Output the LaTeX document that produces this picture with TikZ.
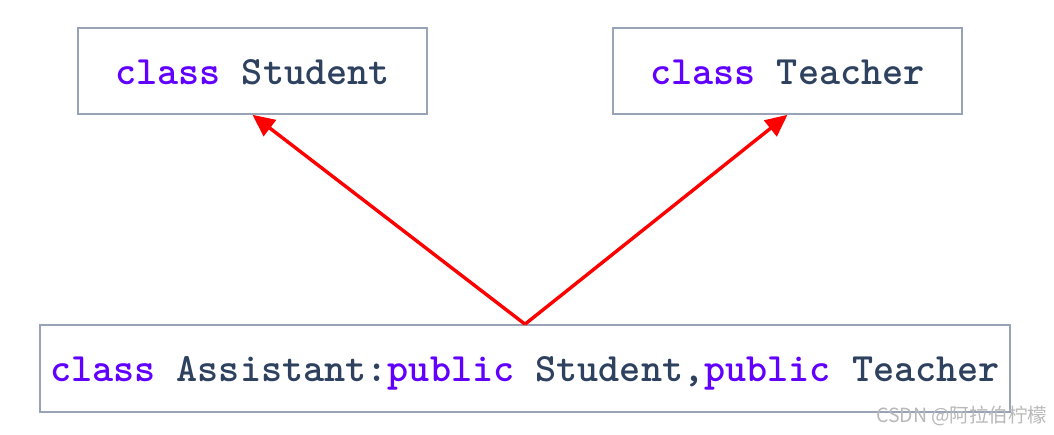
\documentclass[tikz,border=0pt]{standalone}
\usepackage{fontspec}
\newfontfamily\cjk{Noto Sans CJK SC}
\usepackage{xcolor}
\usetikzlibrary{positioning, arrows.meta}

\definecolor{kwcolor}{HTML}{6200FF}
\definecolor{idcolor}{HTML}{2E415E}
\definecolor{edgecolor}{HTML}{99A3B6}
\newcommand{\kw}[1]{\textcolor{kwcolor}{#1}}

\begin{document}
\begin{tikzpicture}[
      x=1pt, y=1pt,
      cls/.style={draw=edgecolor, line width=1.6pt, fill=white, inner sep=0pt,
        minimum width=349pt, minimum height=86pt, text=idcolor,
        text height=27pt, text depth=0pt,
        font=\ttfamily\bfseries\fontsize{40.2}{44}\selectfont},
      wide/.style={cls, minimum width=970pt, minimum height=87pt},
      arr/.style={-{Triangle[length=22pt, width=20pt]}, draw=red, line width=3.4pt}
    ]
    \useasboundingbox (0,0) rectangle (1054,435);
    \node[cls] (student) at (252.5,364) {\kw{class} Student};
    \node[cls] (teacher) at (787.5,364) {\kw{class} Teacher};
    \node[wide] (assistant) at (525,66.5) {\kw{class} Assistant:\kw{public} Student,\kw{public} Teacher};

    \draw[arr] (assistant.north) -- (student.south);
    \draw[arr] (assistant.north) -- (teacher.south);

    % watermark
    \node[font=\cjk\fontsize{19.5}{20}\selectfont, text=black!28, anchor=east] (mark) at (1051,19) {CSDN @阿拉伯柠檬};
  \end{tikzpicture}
\end{document}
